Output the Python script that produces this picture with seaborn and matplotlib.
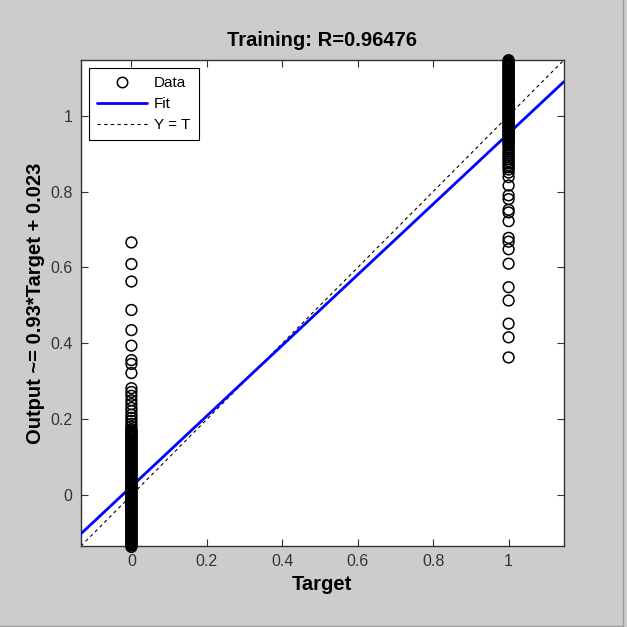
import numpy as np
import pandas as pd
import seaborn as sns
import matplotlib.pyplot as plt
from matplotlib.lines import Line2D

# network outputs for samples with target 0 (sparse tail, then the solid band)
out_t0 = [0.666, 0.609, 0.563, 0.488, 0.435, 0.394, 0.356, 0.346, 0.322, 0.282,
          0.272, 0.262, 0.250, 0.240, 0.230, 0.222, 0.212, 0.204, 0.196, 0.188,
          0.181, 0.174, 0.171, 0.168, 0.165, 0.162, 0.159, 0.156, 0.153, 0.150,
          0.147, 0.144, 0.141, 0.138, 0.135, 0.132, 0.129, 0.126, 0.123, 0.120,
          0.117, 0.114, 0.111, 0.108, 0.105, 0.102, 0.099, 0.096, 0.093, 0.090,
          0.087, 0.084, 0.081, 0.078, 0.075, 0.072, 0.069, 0.066, 0.063, 0.060,
          0.057, 0.054, 0.051, 0.048, 0.045, 0.042, 0.039, 0.036, 0.033, 0.030,
          0.027, 0.024, 0.021, 0.018, 0.015, 0.012, 0.009, 0.006, 0.003, 0.000,
          -0.003, -0.006, -0.009, -0.012, -0.015, -0.018, -0.021, -0.024, -0.027,
          -0.030, -0.033, -0.036, -0.039, -0.042, -0.045, -0.048, -0.051, -0.054,
          -0.057, -0.060, -0.063, -0.066, -0.069, -0.072, -0.075, -0.078, -0.081,
          -0.084, -0.087, -0.090, -0.093, -0.096, -0.099, -0.102, -0.105, -0.108,
          -0.111, -0.114, -0.117, -0.120, -0.123, -0.126, -0.129, -0.132, -0.136]

# network outputs for samples with target 1
out_t1 = [0.363, 0.416, 0.452, 0.513, 0.548, 0.610, 0.648, 0.668, 0.678, 0.722,
          0.745, 0.752, 0.780, 0.790, 0.816, 0.838, 0.850, 0.858, 0.864, 0.869,
          0.874, 0.880, 0.885, 0.890, 0.896, 0.901, 0.906, 0.912, 0.917, 0.922,
          0.927, 0.930, 0.933, 0.936, 0.939, 0.942, 0.945, 0.948, 0.951, 0.954,
          0.957, 0.960, 0.963, 0.966, 0.969, 0.972, 0.975, 0.978, 0.981, 0.984,
          0.987, 0.990, 0.993, 0.996, 0.999, 1.002, 1.005, 1.008, 1.011, 1.014,
          1.017, 1.020, 1.023, 1.026, 1.029, 1.032, 1.035, 1.038, 1.041, 1.044,
          1.047, 1.050, 1.053, 1.056, 1.059, 1.062, 1.065, 1.068, 1.071, 1.074,
          1.077, 1.080, 1.083, 1.086, 1.089, 1.092, 1.095, 1.098, 1.101, 1.104,
          1.107, 1.110, 1.113, 1.116, 1.119, 1.122, 1.125, 1.128, 1.131, 1.134,
          1.137, 1.140, 1.143, 1.146]

fit_slope = 0.93
fit_offset = 0.023
r_value = 0.96476
lims = [-0.134, 1.146]
ticks = [0, 0.2, 0.4, 0.6, 0.8, 1]
tick_labels = ["0", "0.2", "0.4", "0.6", "0.8", "1"]

df = pd.DataFrame({
    "Target": [0] * len(out_t0) + [1] * len(out_t1),
    "Output": out_t0 + out_t1,
})
line_x = np.array(lims)
fit_df = pd.DataFrame({"x": line_x, "y": fit_slope * line_x + fit_offset})
yt_df = pd.DataFrame({"x": line_x, "y": line_x})

sns.set_style("white")
plt.rcParams["font.family"] = ["Liberation Sans", "DejaVu Sans"]

fig = plt.figure(figsize=(6.27, 6.27), dpi=100, facecolor="#cccccc")
ax = fig.add_axes([0.129, 0.129, 0.770, 0.775])
ax.set_facecolor("white")

sns.lineplot(data=yt_df, x="x", y="y", ax=ax, color="black", lw=0.8,
             linestyle=(0, (3, 3)), zorder=2)
sns.lineplot(data=fit_df, x="x", y="y", ax=ax, color="#0000ff", lw=2, zorder=3)
sns.scatterplot(data=df, x="Target", y="Output", ax=ax, marker="o", s=60,
                facecolor="none", edgecolor="black", linewidth=1.1,
                clip_on=False, zorder=4)

ax.set_xlim(lims)
ax.set_ylim(lims)
ax.set_xticks(ticks)
ax.set_xticklabels(tick_labels)
ax.set_yticks(ticks)
ax.set_yticklabels(tick_labels)
ax.tick_params(direction="in", length=5, width=0.8, colors="#333333",
               labelsize=11.5, top=True, right=True, bottom=True, left=True,
               pad=6)
for sp in ax.spines.values():
    sp.set_color("#333333")
    sp.set_linewidth(1)

ax.set_title(f"Training: R={r_value}", fontsize=14.5, fontweight="bold",
             color="black", pad=10)
ax.set_xlabel("Target", fontsize=14.5, fontweight="bold", color="black",
              labelpad=4)
ax.set_ylabel(f"Output ~= {fit_slope}*Target + {fit_offset}", fontsize=14.5,
              fontweight="bold", color="black", labelpad=4)

handles = [
    Line2D([], [], marker="o", ls="none", mfc="none", mec="black", ms=7.5, mew=1.1),
    Line2D([], [], color="#0000ff", lw=2),
    Line2D([], [], color="black", lw=0.8, linestyle=(0, (3, 3))),
]
leg = ax.legend(handles, ["Data", "Fit", "Y = T"], loc="upper left",
                fontsize=11, frameon=True, fancybox=False, framealpha=1,
                edgecolor="black", borderaxespad=0.5, handlelength=3.3,
                handletextpad=0.45, labelspacing=0.45, borderpad=0.55)
leg.get_frame().set_linewidth(0.8)
for t in leg.get_texts():
    t.set_color("black")

fig.add_artist(Line2D([0.994, 0.994], [0.002, 1], color="#9a9a9a", lw=1))
fig.add_artist(Line2D([0, 0.994], [0.002, 0.002], color="#9a9a9a", lw=1))

fig.savefig("out.png", dpi=100, facecolor=fig.get_facecolor())
